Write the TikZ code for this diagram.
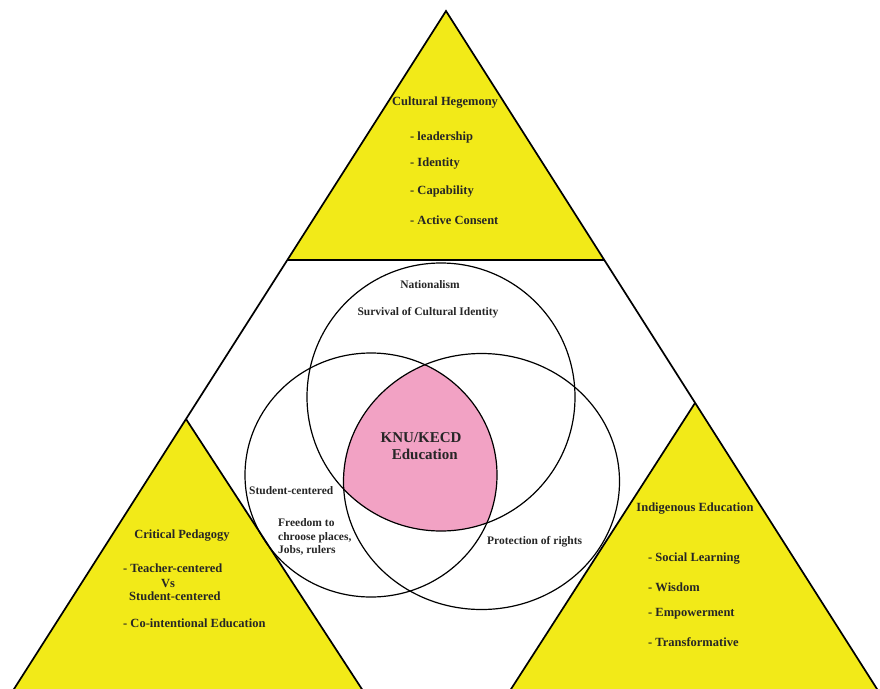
\documentclass[tikz,border=0pt]{standalone}
\usepackage{fontspec}
\setmainfont{Liberation Serif}
\definecolor{tyellow}{RGB}{242,234,24}
\definecolor{tpink}{RGB}{242,162,196}
\begin{document}
\begin{tikzpicture}[x=1pt,y=-1pt,
  lbl/.style={font=\bfseries\fontsize{12.5}{13.5}\selectfont, inner sep=0pt, text=black!85},
  vlbl/.style={font=\bfseries\fontsize{11.5}{13.5}\selectfont, inner sep=0pt, text=black!85},
  big/.style={font=\bfseries\fontsize{15}{17}\selectfont, inner sep=0pt, align=center, text=black!85},
  triline/.style={line width=1.7pt, line join=miter},
  circline/.style={line width=1.2pt}]
\useasboundingbox (0,0) rectangle (880,688);
\begin{scope}
\clip (0,0) rectangle (880,688);
% coordinates
\coordinate (apex) at (446,11);
\coordinate (tl) at (287.4,260);
\coordinate (tr) at (604,260);
\coordinate (bl) at (7,700);
\coordinate (br) at (884,700);
\coordinate (la) at (186,419);
\coordinate (lr) at (369,700);
\coordinate (ra) at (695,403);
\coordinate (rl) at (504,700);
% yellow triangles
\fill[tyellow] (apex) -- (tr) -- (tl) -- cycle;
\fill[tyellow] (la) -- (lr) -- (bl) -- cycle;
\fill[tyellow] (ra) -- (br) -- (rl) -- cycle;
% pink intersection
\begin{scope}
\clip (441,397) circle [radius=134];
\clip (371,475) ellipse [x radius=126, y radius=122];
\fill[tpink] (481.5,481.5) ellipse [x radius=138, y radius=128];
\end{scope}
% circles
\draw[circline] (441,397) circle [radius=134];
\draw[circline] (371,475) ellipse [x radius=126, y radius=122];
\draw[circline] (481.5,481.5) ellipse [x radius=138, y radius=128];
% triangle outlines
\draw[triline] (bl) -- (apex) -- (br);
\draw[triline] (tl) -- (tr);
\draw[triline] (la) -- (lr);
\draw[triline] (ra) -- (rl);
\end{scope}
% top triangle text
\node[lbl] (ch) at (445,103) {Cultural Hegemony};
\node[lbl, anchor=west] (ch1) at (410,137) {- leadership};
\node[lbl, anchor=west] (ch2) at (410,164) {- Identity};
\node[lbl, anchor=west] (ch3) at (410,192) {- Capability};
\node[lbl, anchor=west] (ch4) at (410,220) {- Active Consent};
% venn text
\node[vlbl] (nat) at (430,285) {Nationalism};
\node[vlbl] (surv) at (428,313) {Survival of Cultural Identity};
\node[big] (knu) at (421,446) {KNU/KECD\\\ \ Education};
\node[vlbl, anchor=west] (stc) at (249,491) {Student-centered};
\node[vlbl, anchor=west, align=left] (free) at (278,537) {Freedom to\\chroose places,\\Jobs, rulers};
\node[vlbl, anchor=west] (prot) at (487,542) {Protection of rights};
% left triangle text
\node[lbl] (cp) at (182,536) {Critical Pedagogy};
\node[lbl, anchor=west] (cp1) at (123,568) {- Teacher-centered};
\node[lbl] (cpvs) at (168,583) {Vs};
\node[lbl, anchor=west] (cp2) at (129,596) {Student-centered};
\node[lbl, anchor=west] (cp3) at (123,623) {- Co-intentional Education};
% right triangle text
\node[lbl] (ie) at (695,509) {Indigenous Education};
\node[lbl, anchor=west] (ie1) at (648,559) {- Social Learning};
\node[lbl, anchor=west] (ie2) at (648,587) {- Wisdom};
\node[lbl, anchor=west] (ie3) at (648,614) {- Empowerment};
\node[lbl, anchor=west] (ie4) at (648,642) {- Transformative};
\end{tikzpicture}
\end{document}
